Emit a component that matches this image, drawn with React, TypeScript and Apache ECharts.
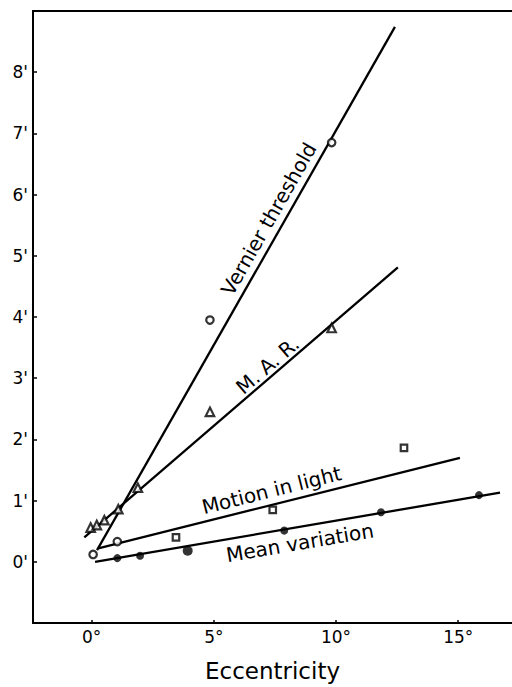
import React, { useEffect, useRef } from "react";
import * as echarts from "echarts";

const xTicks = [0, 5, 10, 15];
const yTicks = [0, 1, 2, 3, 4, 5, 6, 7, 8];

const vernierPoints = [[0.06, 0.12], [4.84, 3.95], [9.82, 6.85]];
const vernierLine = [[0.22, 0.19], [12.41, 8.74]];
const marPoints = [[-0.04, 0.56], [0.21, 0.6], [0.52, 0.68], [1.09, 0.86], [1.89, 1.21], [4.84, 2.45], [9.82, 3.82]];
const marLine = [[-0.3, 0.4], [12.53, 4.81]];
const motionPoints = [[3.45, 0.4], [7.41, 0.85], [12.78, 1.86]];
const motionCirclePoints = [[1.05, 0.33]];
const motionLine = [[0.27, 0.22], [15.07, 1.7]];
const meanPoints = [[1.05, 0.06], [1.98, 0.1], [3.93, 0.18], [7.88, 0.51], [11.84, 0.81], [15.85, 1.09]];
const meanLine = [[0.14, 0.0], [16.71, 1.13]];

const lineLabels = ["Vernier threshold", "M. A. R.", "Motion in light", "Mean variation"];
const labelAnchors = [[7.25, 5.6], [7.2, 3.21], [7.36, 1.17], [8.52, 0.31]];

export default function App() {
  const ref = useRef<HTMLDivElement>(null);
  useEffect(() => {
    document.body.style.margin = "0";
    const chart = echarts.init(ref.current!, null, { renderer: "svg" });
    const black = "#000";
    const font = "DejaVu Sans";
    const lineSeries = (data: number[][]) => ({
      type: "line",
      data,
      symbol: "none",
      lineStyle: { color: black, width: 2.3 },
      silent: true,
      z: 2,
    });
    const openStyle = { color: "#fff", borderColor: black, borderWidth: 2.2 };
    const option: any = {
      animation: false,
      grid: { left: 33, right: 0, top: 11, bottom: 62 },
      xAxis: [
        {
          type: "value",
          min: -2.4,
          max: 17.2,
          position: "bottom",
          axisLine: { onZero: false, lineStyle: { color: black, width: 2 } },
          axisTick: { inside: true, length: 3, customValues: xTicks, lineStyle: { color: black, width: 1.5 } },
          axisLabel: { customValues: xTicks, formatter: (v: number) => `${v}°`, color: black, fontSize: 17, fontFamily: font, margin: 5 },
          splitLine: { show: false },
          name: "Eccentricity",
          nameLocation: "middle",
          nameGap: 36,
          nameTextStyle: { color: black, fontSize: 23, fontFamily: font },
        },
        {
          type: "value",
          min: -2.4,
          max: 17.2,
          position: "top",
          axisLine: { onZero: false, lineStyle: { color: black, width: 2 } },
          axisTick: { show: false },
          axisLabel: { show: false },
          splitLine: { show: false },
        },
      ],
      yAxis: {
        type: "value",
        min: -1,
        max: 9,
        axisLine: { show: true, onZero: false, lineStyle: { color: black, width: 2 } },
        axisTick: { show: true, inside: true, length: 4, customValues: yTicks, lineStyle: { color: black, width: 1.5 } },
        axisLabel: { customValues: yTicks, formatter: (v: number) => `${v}'`, color: black, fontSize: 17, fontFamily: font, margin: 5 },
        splitLine: { show: false },
      },
      series: [
        lineSeries(vernierLine),
        lineSeries(marLine),
        lineSeries(motionLine),
        lineSeries(meanLine),
        { type: "scatter", data: vernierPoints, symbol: "circle", symbolSize: 7.5, itemStyle: openStyle, z: 3 },
        { type: "scatter", data: motionCirclePoints, symbol: "circle", symbolSize: 7.5, itemStyle: openStyle, z: 3 },
        { type: "scatter", data: marPoints, symbol: "triangle", symbolSize: 8.5, itemStyle: openStyle, z: 3 },
        { type: "scatter", data: motionPoints, symbol: "rect", symbolSize: 6.5, itemStyle: openStyle, z: 3 },
        {
          type: "scatter",
          data: meanPoints,
          symbol: "circle",
          symbolSize: (_v: any, p: any) => (p.dataIndex === 2 ? 10 : 8),
          itemStyle: { color: black },
          z: 3,
        },
      ],
    };
    chart.setOption(option);
    const toPx = (p: number[]) => chart.convertToPixel({ xAxisIndex: 0, yAxisIndex: 0 }, p) as number[];
    const lines = [vernierLine, marLine, motionLine, meanLine];
    const graphic = lineLabels.map((t, i) => {
      const a = toPx(lines[i][0]);
      const b = toPx(lines[i][1]);
      const rot = Math.atan2(a[1] - b[1], b[0] - a[0]);
      const c = toPx(labelAnchors[i]);
      return {
        type: "text",
        x: c[0],
        y: c[1],
        rotation: rot,
        silent: true,
        style: {
          text: t,
          fill: black,
          font: `20px "DejaVu Sans"`,
          textAlign: "center",
          textVerticalAlign: "middle",
          align: "center",
          verticalAlign: "middle",
        },
      };
    });
    chart.setOption({ graphic });
    return () => chart.dispose();
  }, []);
  return <div ref={ref} style={{ width: 512, height: 687 }} />;
}
